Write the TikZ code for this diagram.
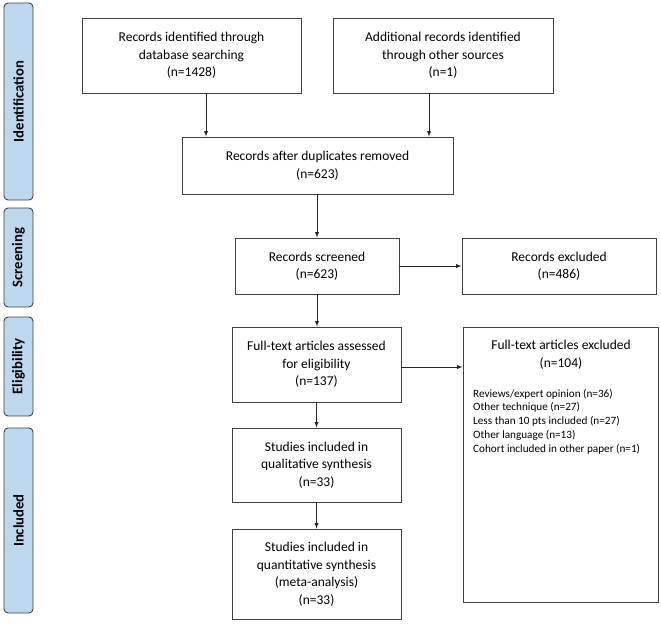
\documentclass[tikz,border=0pt]{standalone}
\usepackage{fontspec}
\setmainfont{Carlito}
\usepackage{xcolor}
\usetikzlibrary{arrows, positioning}
\definecolor{barblue}{HTML}{BDD7EE}
\definecolor{edgegray}{HTML}{404040}

\begin{document}
\begin{tikzpicture}[x=1pt,y=-1pt,>=latex]
    \tikzstyle{phase}=[shape=rectangle,rounded corners=4pt,draw=edgegray,fill=barblue,line width=0.9pt,rotate=90,minimum height=29pt,inner sep=0pt,font=\fontsize{14.7}{16}\selectfont\bfseries]
    \tikzstyle{process}=[shape=rectangle,draw=edgegray,line width=0.9pt,align=center,inner sep=0pt,font=\fontsize{13.5}{17.5}\selectfont]
    \tikzstyle{flow}=[->,draw=black!85,line width=0.9pt]

    \useasboundingbox (0,0) rectangle (661,627);

    % phase bars
    \node[phase, minimum width=197pt] (idbar) at (18.5,101.5) {Identification};
    \node[phase, minimum width=99pt] (scbar) at (18.5,257.5) {Screening};
    \node[phase, minimum width=99pt] (elbar) at (18.5,366.5) {Eligibility};
    \node[phase, minimum width=185pt] (inbar) at (18.5,520.5) {Included};

    % boxes
    \node[process, minimum width=219pt, minimum height=75pt] (dbsearch) at (191.5,55.5) {Records identified through\\database searching\\(n=1428)};
    \node[process, minimum width=220pt, minimum height=75pt] (othersrc) at (443,55.5) {Additional records identified\\through other sources\\(n=1)};
    \node[process, minimum width=271pt, minimum height=57pt] (dedup) at (317.5,165.5) {Records after duplicates removed\\(n=623)};
    \node[process, minimum width=164pt, minimum height=56pt] (screened) at (317,266) {Records screened\\(n=623)};
    \node[process, minimum width=194pt, minimum height=56pt] (excl) at (559,266) {Records excluded\\(n=486)};
    \node[process, minimum width=169pt, minimum height=75pt] (fulltext) at (316.5,364.5) {Full-text articles assessed\\for eligibility\\(n=137)};
    \node[process, minimum width=195pt, minimum height=275pt] (fullexcl) at (560.5,464.5) {};
    \node[align=center, inner sep=0pt, font=\fontsize{13.5}{17.5}\selectfont] (fxhead) at (561,354.5) {Full-text articles excluded\\(n=104)};
    \node[align=left, inner sep=0pt, anchor=west, font=\fontsize{11.2}{13.8}\selectfont] (fxlist) at (473,421.5) {Reviews/expert opinion (n=36)\\Other technique (n=27)\\Less than 10 pts included (n=27)\\Other language (n=13)\\Cohort included in other paper (n=1)};
    \node[process, minimum width=169pt, minimum height=74pt] (qual) at (316.5,465) {Studies included in\\qualitative synthesis\\(n=33)};
    \node[process, minimum width=169pt, minimum height=90pt] (quant) at (316.5,574) {Studies included in\\quantitative synthesis\\(meta-analysis)\\(n=33)};

    \path
    ([xshift=14.5pt]dbsearch.south) edge[flow] ([xshift=14.5pt]dbsearch.south |- dedup.north)
    ([xshift=-14pt]othersrc.south) edge[flow] ([xshift=-14pt]othersrc.south |- dedup.north)
    (dedup.south -| screened.north) edge[flow] (screened.north)
    (screened.east) edge[flow] (excl.west)
    (screened.south) edge[flow] (screened.south |- fulltext.north)
    ([yshift=-2.5pt]fulltext.east) edge[flow] ([yshift=-2.5pt]fulltext.east -| fullexcl.west)
    (fulltext.south) edge[flow] (qual.north)
    (qual.south) edge[flow] (quant.north)
    ;
\end{tikzpicture}
\end{document}
